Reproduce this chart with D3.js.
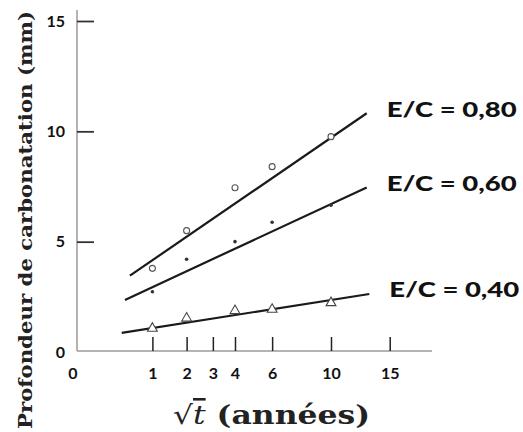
<!DOCTYPE html>
<html>
<head>
<meta charset="utf-8">
<script src="https://cdn.jsdelivr.net/npm/d3@7"></script>
<style>
  body { margin: 0; background: #fff; }
  svg { display: block; }
</style>
</head>
<body>
<svg id="chart" width="523" height="432"></svg>
<script>
// ---- data ----
const xTicks = [1, 2, 3, 4, 6, 10, 15];
const yTicks = [0, 5, 10, 15];
const times = [1, 2, 4, 6, 10];
const seriesNames = ["E/C = 0,80", "E/C = 0,60", "E/C = 0,40"];
const depth080 = [3.79, 5.50, 7.44, 8.40, 9.76];
const depth060 = [2.73, 4.20, 5.00, 5.88, 6.65];
const depth040 = [1.07, 1.53, 1.87, 1.93, 2.23];
const fitStartT = [0.53, 0.446, 0.395];
const fitEndT = [12.92, 12.92, 13.15];
const fitStartY = [3.46, 2.36, 0.87];
const fitEndY = [10.82, 7.46, 2.63];
const markerTypes = ["circle", "dot", "triangle"];

// ---- layout ----
const svg = d3.select("#chart");
const axisX = 77, axisTop = 10, axisBottomY = 351, axisRight = 432;

const x = d3.scaleSqrt().domain([0, 15]).range([69.8, 389.7]);
const y = d3.scaleLinear().domain([0, 15]).range([352, 21]);

// axis lines
svg.append("line").attr("x1", axisX).attr("x2", axisX).attr("y1", axisTop).attr("y2", axisBottomY)
  .attr("stroke", "#9a9a9a").attr("stroke-width", 1.5);
svg.append("line").attr("x1", axisX).attr("x2", axisRight).attr("y1", axisBottomY).attr("y2", axisBottomY)
  .attr("stroke", "#9a9a9a").attr("stroke-width", 1.5);

const tickFont = "Lato, 'Open Sans', sans-serif";

// x axis
const gx = svg.append("g").attr("transform", `translate(0,${axisBottomY})`)
  .call(d3.axisBottom(x).tickValues(xTicks).tickFormat(d3.format("d")).tickSizeInner(-14).tickSizeOuter(0).tickPadding(17));
gx.select(".domain").remove();
gx.selectAll(".tick line").attr("stroke", "#222").attr("stroke-width", 1.5);
gx.selectAll(".tick text").attr("font-family", tickFont).attr("font-weight", "bold")
  .attr("font-size", 16).attr("fill", "#111");
// "0" label at origin
svg.append("text").attr("x", x(0) + 3).attr("y", axisBottomY + 17).attr("dy", "0.71em")
  .attr("text-anchor", "middle").attr("font-family", tickFont).attr("font-weight", "bold")
  .attr("font-size", 16).attr("fill", "#111").text("0");

// y axis
const gy = svg.append("g").attr("transform", `translate(${axisX},0)`)
  .call(d3.axisLeft(y).tickValues(yTicks).tickSizeInner(-17).tickSizeOuter(0).tickPadding(12));
gy.select(".domain").remove();
gy.selectAll(".tick line").attr("stroke", "#333").attr("stroke-width", 1.8)
  .filter(d => d === 0).remove();
gy.selectAll(".tick text").attr("font-family", tickFont).attr("font-weight", "bold")
  .attr("font-size", 16).attr("fill", "#111");

// fitted lines
const series = [depth080, depth060, depth040];
seriesNames.forEach((name, i) => {
  svg.append("line")
    .attr("x1", x(fitStartT[i])).attr("y1", y(fitStartY[i]))
    .attr("x2", x(fitEndT[i])).attr("y2", y(fitEndY[i]))
    .attr("stroke", "#1a1a1a").attr("stroke-width", 2.2);
});

// markers
series.forEach((vals, i) => {
  const g = svg.append("g");
  const pts = times.map((t, j) => [t, vals[j]]);
  if (markerTypes[i] === "circle") {
    g.selectAll("circle").data(pts).join("circle")
      .attr("cx", d => x(d[0])).attr("cy", d => y(d[1])).attr("r", 3)
      .attr("fill", "#fff").attr("stroke", "#555").attr("stroke-width", 1.1);
  } else if (markerTypes[i] === "dot") {
    g.selectAll("circle").data(pts).join("circle")
      .attr("cx", d => x(d[0])).attr("cy", d => y(d[1])).attr("r", 1.8)
      .attr("fill", "#333");
  } else {
    g.selectAll("path").data(pts).join("path")
      .attr("d", d3.symbol(d3.symbolTriangle, 42))
      .attr("transform", d => `translate(${x(d[0])},${y(d[1])})`)
      .attr("fill", "#fff").attr("stroke", "#444").attr("stroke-width", 1.1);
  }
});

// series labels
seriesNames.forEach((name, i) => {
  svg.append("text")
    .attr("x", x(fitEndT[i]) + 20).attr("y", y(fitEndY[i]) - 2)
    .attr("dominant-baseline", "middle")
    .attr("font-family", tickFont).attr("font-weight", "900")
    .attr("font-size", 21).attr("fill", "#111")
    .attr("textLength", 130).attr("lengthAdjust", "spacingAndGlyphs")
    .text(name);
});

// y title
svg.append("text")
  .attr("transform", "translate(32,220) rotate(-90)")
  .attr("text-anchor", "middle")
  .attr("font-family", "'DejaVu Serif', serif").attr("font-weight", "bold")
  .attr("font-size", 19).attr("fill", "#222")
  .attr("textLength", 418).attr("lengthAdjust", "spacingAndGlyphs")
  .text("Profondeur de carbonatation (mm)");

// x title
const xt = svg.append("text")
  .attr("x", 173).attr("y", 424)
  .attr("font-family", "'DejaVu Serif', serif").attr("font-size", 26).attr("fill", "#222")
  .attr("textLength", 197).attr("lengthAdjust", "spacingAndGlyphs");
xt.append("tspan").attr("font-weight", "normal").text("√");
xt.append("tspan").attr("font-style", "italic").attr("text-decoration", "overline").text("t");
xt.append("tspan").attr("font-weight", "bold").text(" (années)");
</script>
</body>
</html>
